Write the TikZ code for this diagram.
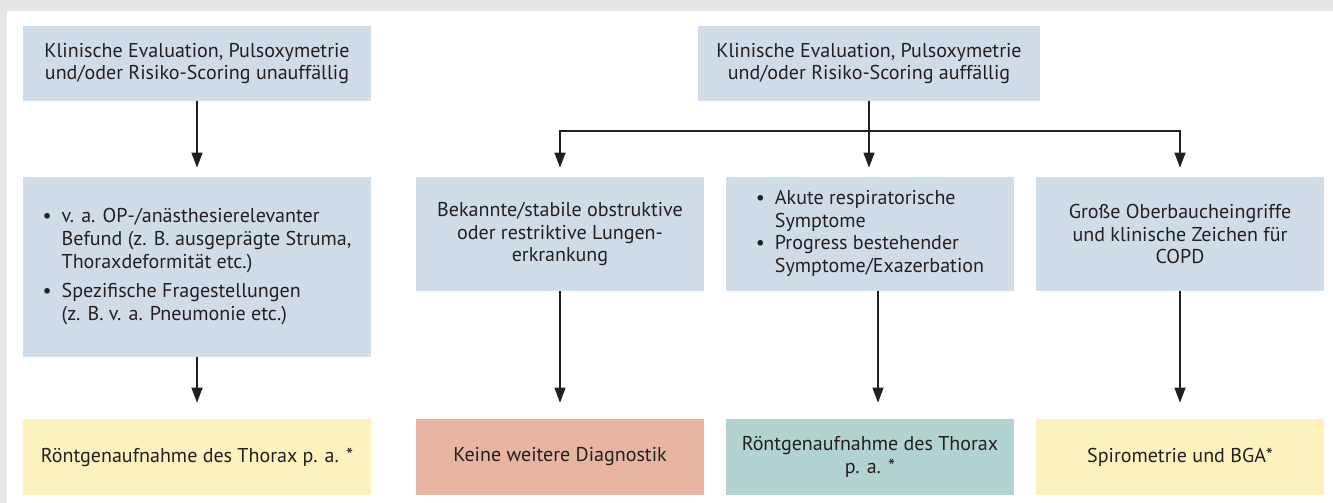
\documentclass[tikz,border=0pt]{standalone}
\usepackage{fontspec}
\setmainfont{PT Sans}
\usetikzlibrary{arrows.meta}
\definecolor{boxblue}{RGB}{208,221,233}
\definecolor{boxyellow}{RGB}{253,241,190}
\definecolor{boxred}{RGB}{233,181,163}
\definecolor{boxteal}{RGB}{179,211,209}
\definecolor{framegray}{RGB}{230,231,233}
\definecolor{inkgray}{RGB}{35,31,32}

\begin{document}
\begin{tikzpicture}[x=0.02cm, y=-0.02cm,
    box/.style={inner sep=0pt, text=inkgray, align=center,
      font=\fontsize{11.4}{13}\selectfont},
    wide/.style={box, minimum width=6.96cm},
    narrow/.style={box, minimum width=5.76cm},
    arr/.style={draw=inkgray, line width=0.7pt,
      -{Triangle[width=0.22cm,length=0.3cm]}}]
      \useasboundingbox (0,0) rectangle (1333,503);
      \fill[framegray] (0,0) rectangle (1333,503);
      \fill[white] (7,11) rectangle (1333,503);
      % top row
      \node[wide, fill=boxblue, minimum height=1.5cm] (clinok) at (197,63.5)
        {Klinische Evaluation, Pulsoxymetrie\\und/oder Risiko-Scoring unauffällig};
      \node[box, fill=boxblue, minimum width=6.86cm, minimum height=1.5cm] (clinabn) at (869,63.5)
        {Klinische Evaluation, Pulsoxymetrie\\und/oder Risiko-Scoring auffällig};
      % middle row
      \node[wide, fill=boxblue, minimum height=3.6cm] (findings) at (197,267)
        {\begin{tabular}{@{}l@{\hspace{0.2cm}}l@{}}
          •& v. a. OP-/anästhesierelevanter\\
           & Befund (z. B. ausgeprägte Struma,\\
           & Thoraxdeformität etc.)\\[0.14cm]
          •& Spezifische Fragestellungen\\
           & (z. B. v. a. Pneumonie etc.)
        \end{tabular}};
      \node[narrow, fill=boxblue, minimum height=2.28cm] (known) at (560,234)
        {Bekannte/stabile obstruktive\\oder restriktive Lungen-\\erkrankung};
      \node[narrow, fill=boxblue, minimum height=2.28cm] (acute) at (870,234)
        {\begin{tabular}{@{}l@{\hspace{0.2cm}}l@{}}
          •& Akute respiratorische\\
           & Symptome\\
          •& Progress bestehender\\
           & Symptome/Exazerbation
        \end{tabular}};
      \node[narrow, fill=boxblue, minimum height=2.28cm] (upper) at (1180,234)
        {Große Oberbaucheingriffe\\und klinische Zeichen für\\COPD};
      % bottom row
      \node[wide, fill=boxyellow, minimum height=1.52cm] (xrayone) at (197,457)
        {Röntgenaufnahme des Thorax p. a. *};
      \node[narrow, fill=boxred, minimum height=1.52cm] (nomore) at (560,457)
        {Keine weitere Diagnostik};
      \node[narrow, fill=boxteal, minimum height=1.52cm] (xraytwo) at (870,457)
        {Röntgenaufnahme des Thorax\\p. a. *};
      \node[narrow, fill=boxyellow, minimum height=1.52cm] (spiro) at (1180,457)
        {Spirometrie und BGA*};
      % connectors
      \coordinate (split) at (869,131);
      \draw[arr, shorten >=0.18cm] (clinok) -- (findings);
      \draw[arr, shorten >=0.18cm] (clinabn) -- (split) -| (known.north);
      \draw[arr, shorten >=0.18cm] (split) -| (upper.north);
      \draw[arr, shorten >=0.18cm] (split) -- (split |- acute.north);
      \draw[arr, shorten >=0.32cm] (findings) -- (xrayone);
      \draw[arr, shorten >=0.32cm] (known) -- (nomore);
      \draw[arr, shorten >=0.32cm] ([xshift=0.16cm]acute.south) -- ([xshift=0.16cm]xraytwo.north);
      \draw[arr, shorten >=0.32cm] (upper) -- (spiro);
    \end{tikzpicture}
\end{document}
